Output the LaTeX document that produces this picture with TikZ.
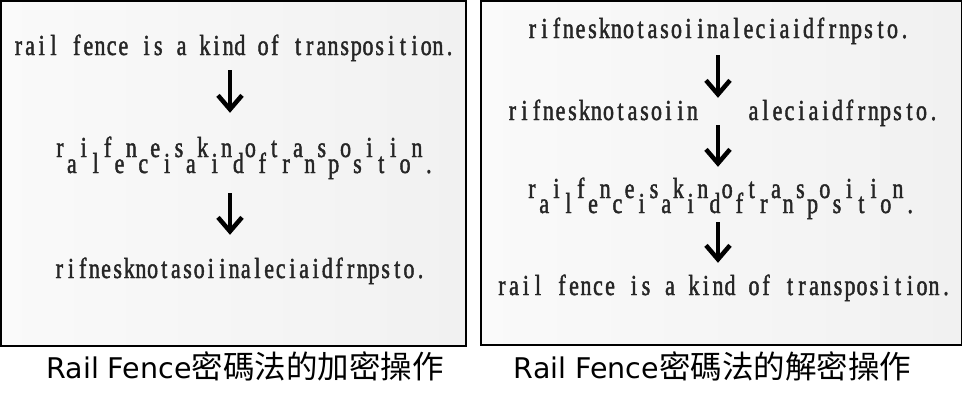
\documentclass[tikz,border=0pt]{standalone}
\usepackage{fontspec}
\usepackage{tikz}
\usetikzlibrary{calc,arrows.meta}
\newfontfamily\ming[FakeStretch=0.76,FakeBold=1.5]{Liberation Serif}
\newfontfamily\capsans{DejaVu Sans}
\newfontfamily\cjk{Noto Sans CJK TC}
\newlength\cw
\newcommand\monoword[1]{\monostep#1\relax}
\def\monostep#1{\ifx\relax#1\else\makebox[\cw]{#1}\expandafter\monostep\fi}
\tikzset{
  txt/.style={anchor=base, inner sep=0pt, text height=13pt, text depth=0pt, text=black!85, font=\ming\fontsize{29}{34}\selectfont},
  flow/.style={line width=4.5pt, -{Straight Barb[length=14pt,width=24pt]}},
  panel/.style={draw=black, line width=1.5pt, left color=black!2, right color=black!5.5},
  caption/.style={anchor=base, inner sep=0pt, font=\capsans\fontsize{28.5}{34}\selectfont}
}

\begin{document}
\begin{tikzpicture}[x=1pt,y=-1pt]
\useasboundingbox (0,0) rectangle (962,405);
\def\letters{r,a,i,l,f,e,n,c,e,i,s,a,k,i,n,d,o,f,t,r,a,n,s,p,o,s,i,t,i,o,n,.}
% encryption
\draw[panel] (0.75,0.75) rectangle (466,346);
\coordinate (axisL) at (230,0);
\setlength\cw{11.65pt}
\path (234,55) node[txt] (plainL) {\monoword{rail~fence~is~a~kind~of~transposition.}};
\foreach \c [count=\i from 0] in \letters {
  \pgfmathsetmacro\yy{isodd(\i) ? 173 : 157}
  \path (60+11.9*\i,\yy) node[txt] (railL-\i) {\c};
}
\path (240,278) node[txt] (cipherL) {\monoword{rifnesknotasoiinaleciaidfrnpsto.}};
\draw[flow, shorten <=15pt, shorten >=31pt] (plainL.south -| axisL) -- (railL-0.north -| axisL);
\draw[flow, shorten <=20pt, shorten >=30pt] (railL-1.south -| axisL) -- (cipherL.north -| axisL);
\path (245,378) node[caption] (capL) {Rail Fence{\cjk\fontsize{31.5}{36}\selectfont 密碼法的加密操作}};
% decryption
\draw[panel] (481,0.75) rectangle (961.25,345);
\coordinate (axisR) at (718,0);
\setlength\cw{12pt}
\path (718.5,38) node[txt] (cipherR) {\monoword{rifnesknotasoiinaleciaidfrnpsto.}};
\path (602.5,120) node[txt] (halfR-1) {\monoword{rifnesknotasoiin}};
\path (843.5,120) node[txt] (halfR-2) {\monoword{aleciaidfrnpsto.}};
\foreach \c [count=\i from 0] in \letters {
  \pgfmathsetmacro\yy{isodd(\i) ? 213 : 198}
  \path (532+12.2*\i,\yy) node[txt] (railR-\i) {\c};
}
\path (724,295) node[txt] (plainR) {\monoword{rail~fence~is~a~kind~of~transposition.}};
\draw[flow, shorten <=17pt, shorten >=9pt] (cipherR.south -| axisR) -- (halfR-1.north -| axisR);
\draw[flow, shorten <=5pt, shorten >=18pt] (halfR-1.south -| axisR) -- (railR-0.north -| axisR);
\draw[flow, shorten <=9pt, shorten >=19pt] (railR-1.south -| axisR) -- (plainR.north -| axisR);
\path (712.5,378) node[caption] (capR) {Rail Fence{\cjk\fontsize{31.5}{36}\selectfont 密碼法的解密操作}};
\end{tikzpicture}
\end{document}
